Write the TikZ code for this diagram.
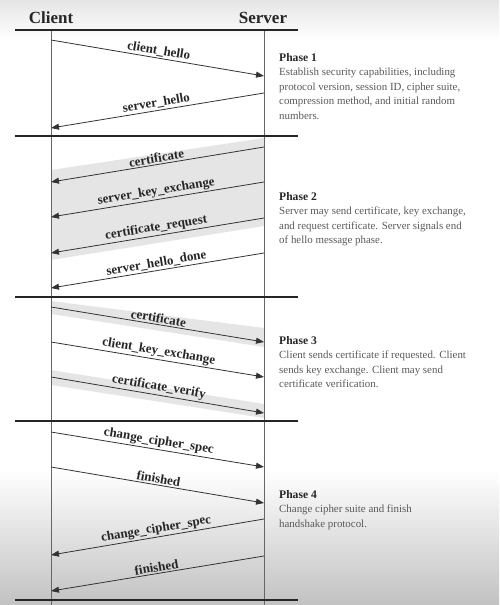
\documentclass[tikz,border=0pt]{standalone}
\usepackage{fontspec}
\setmainfont{Liberation Serif}
\usepackage{tikz}
\usetikzlibrary{arrows.meta}
\def\cx{51}
\def\sx{264}

\begin{document}
\begin{tikzpicture}[x=1pt,y=-1pt,
    msg/.style={black!80,line width=0.8pt,-{Triangle[length=8pt,width=6pt]}},
    lbl/.style={font=\fontsize{13}{13}\selectfont\bfseries,text=black!85,sloped,above,inner sep=1.5pt},
    head/.style={font=\fontsize{17}{17}\selectfont\bfseries,text=black!85},
    sep/.style={line width=2.6pt,black!85},
    life/.style={line width=0.9pt,black!60},
    band/.style={fill=black!10},
    phase/.style={anchor=north west,align=left,inner sep=0pt,font=\fontsize{10.9}{14.5}\selectfont,text=black!65}]
  \useasboundingbox (0,0) rectangle (499,605);
  \shade[top color=black!10,bottom color=white] (0,0) rectangle (499,40);
  \shade[top color=white,bottom color=black!24] (0,470) rectangle (499,605);

  % shaded optional messages
  \fill[band] (\cx,170) -- (\sx,138) -- (\sx,226) -- (\cx,260) -- cycle;
  \fill[band] (\cx,301) -- (\sx,328) -- (\sx,347) -- (\cx,314) -- cycle;
  \fill[band] (\cx,370) -- (\sx,404) -- (\sx,418) -- (\cx,385) -- cycle;

  \node[head] (client) at (\cx,18) {Client};
  \node[head] (server) at (263,18) {Server};

  \coordinate (ctop) at (\cx,30);
  \coordinate (cbot) at (\cx,605);
  \coordinate (stop) at (\sx,30);
  \coordinate (sbot) at (\sx,605);
  \draw[life] (ctop) -- (cbot);
  \draw[life] (stop) -- (sbot);

  \foreach \y in {30,136,297,421,600}
    \draw[sep] (15,\y) -- (298,\y);

  % message ends
  \coordinate (c1) at (\cx,40);   \coordinate (s1) at (\sx,76);
  \coordinate (s2) at (\sx,93);   \coordinate (c2) at (\cx,128);
  \coordinate (s3) at (\sx,147);  \coordinate (c3) at (\cx,182);
  \coordinate (s4) at (\sx,182);  \coordinate (c4) at (\cx,217);
  \coordinate (s5) at (\sx,218);  \coordinate (c5) at (\cx,253);
  \coordinate (s6) at (\sx,253);  \coordinate (c6) at (\cx,288);
  \coordinate (c7) at (\cx,307);  \coordinate (s7) at (\sx,342);
  \coordinate (c8) at (\cx,342);  \coordinate (s8) at (\sx,377);
  \coordinate (c9) at (\cx,377);  \coordinate (s9) at (\sx,413);
  \coordinate (c10) at (\cx,432); \coordinate (s10) at (\sx,467);
  \coordinate (c11) at (\cx,467); \coordinate (s11) at (\sx,503);
  \coordinate (s12) at (\sx,519); \coordinate (c12) at (\cx,555);
  \coordinate (s13) at (\sx,556); \coordinate (c13) at (\cx,591);

  \path[msg]
    (c1) edge node[lbl] {client\_hello} (s1)
    (s2) edge node[lbl] {server\_hello} (c2)
    (s3) edge node[lbl] {certificate} (c3)
    (s4) edge node[lbl] {server\_key\_exchange} (c4)
    (s5) edge node[lbl] {certificate\_request} (c5)
    (s6) edge node[lbl] {server\_hello\_done} (c6)
    (c7) edge node[lbl] {certificate} (s7)
    (c8) edge node[lbl] {client\_key\_exchange} (s8)
    (c9) edge node[lbl] {certificate\_verify} (s9)
    (c10) edge node[lbl] {change\_cipher\_spec} (s10)
    (c11) edge node[lbl] {finished} (s11)
    (s12) edge node[lbl] {change\_cipher\_spec} (c12)
    (s13) edge node[lbl] {finished} (c13);

  \node[phase] (p1) at (279,53) {\textcolor{black!85}{\fontsize{11.6}{14.5}\selectfont\bfseries Phase 1}\\
    Establish security capabilities, including\\
    protocol version, session ID, cipher suite,\\
    compression method, and initial random\\
    numbers.};
  \node[phase] (p2) at (279,192) {\textcolor{black!85}{\fontsize{11.6}{14.5}\selectfont\bfseries Phase 2}\\
    Server may send certificate, key exchange,\\
    and request certificate. Server signals end\\
    of hello message phase.};
  \node[phase] (p3) at (279,336) {\textcolor{black!85}{\fontsize{11.6}{14.5}\selectfont\bfseries Phase 3}\\
    Client sends certificate if requested. Client\\
    sends key exchange. Client may send\\
    certificate verification.};
  \node[phase] (p4) at (279,490) {\textcolor{black!85}{\fontsize{11.6}{14.5}\selectfont\bfseries Phase 4}\\
    Change cipher suite and finish\\
    handshake protocol.};
\end{tikzpicture}
\end{document}
